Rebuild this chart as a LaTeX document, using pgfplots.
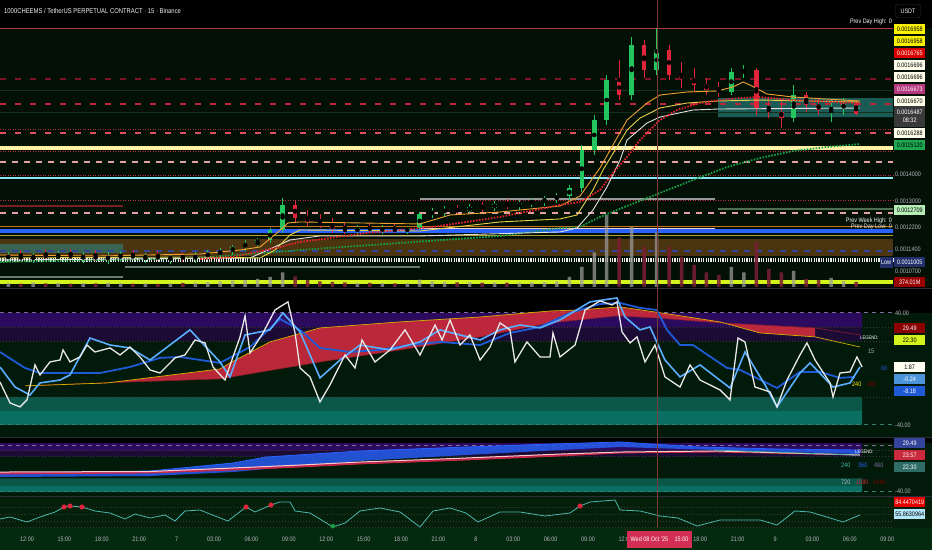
\documentclass[border=0pt]{standalone}
\usepackage{pgfplots}
\pgfplotsset{compat=1.18}
\usepackage{pgfplotstable}
\usepackage{fontspec}
\setmainfont{Liberation Sans}[FakeStretch=0.84]

\definecolor{bgmain}{HTML}{031006}
\definecolor{bgosc}{HTML}{021A09}
\definecolor{bgpthree}{HTML}{04200B}
\definecolor{bgaxis}{HTML}{03290E}
\definecolor{sepc}{HTML}{2A2E39}
\definecolor{tvtext}{HTML}{B2B5BE}
\definecolor{lvlred}{HTML}{E05060}
\definecolor{lvlmid}{HTML}{B8283A}
\definecolor{lvldark}{HTML}{7C1424}
\definecolor{lvlsolid}{HTML}{B03A44}
\definecolor{lvldotc}{HTML}{B83040}
\definecolor{lvlpink}{HTML}{E3A2A2}
\definecolor{faint}{HTML}{12301C}
\definecolor{cream}{HTML}{FFF1A6}
\definecolor{lcyan}{HTML}{8FE4F2}
\definecolor{tvblue}{HTML}{2962FF}
\definecolor{olive}{HTML}{B2A03A}
\definecolor{brownband}{HTML}{4B3410}
\definecolor{brownl}{HTML}{8A5A20}
\definecolor{navy}{HTML}{33449A}
\definecolor{ygreen}{HTML}{D4F21C}
\definecolor{darkred}{HTML}{7A1F25}
\definecolor{grgreen}{HTML}{4F6F50}
\definecolor{grayl}{HTML}{6A7A6A}
\definecolor{orangel}{HTML}{C8741E}
\definecolor{pinkw}{HTML}{F0D0D0}
\definecolor{tealbox}{HTML}{2A8F8A}
\definecolor{upg}{HTML}{22C55E}
\definecolor{dnr}{HTML}{E0243C}
\definecolor{maor}{HTML}{F0A033}
\definecolor{may}{HTML}{E6D24A}
\definecolor{maw}{HTML}{E0E0E0}
\definecolor{mar}{HTML}{E5232F}
\definecolor{mag}{HTML}{17A046}
\definecolor{volg}{HTML}{A0A0A0}
\definecolor{volr}{HTML}{7B1F33}
\definecolor{purpA}{HTML}{2C0B5E}
\definecolor{purpB}{HTML}{1B0B35}
\definecolor{tealA}{HTML}{0B5848}
\definecolor{tealB}{HTML}{0A6E62}
\definecolor{cloud}{HTML}{C92A3C}
\definecolor{yline}{HTML}{D4B000}
\definecolor{oblue}{HTML}{1F5AD6}
\definecolor{olblue}{HTML}{5AAEFF}
\definecolor{owhite}{HTML}{E8E8E8}
\definecolor{tvred}{HTML}{D32F55}
\definecolor{lineteal}{HTML}{4DB6AC}
\definecolor{crossc}{HTML}{7A3A3A}

\pgfplotsset{
  tvpanel/.style={scale only axis, width=932pt, xmin=9.834, xmax=84.59,
    anchor=north west, axis line style={draw=none}, ticks=none, clip=true},
  % price panel: linear in ln(price), same as a log price scale
  pricepanel/.style={tvpanel, at={(0pt,550pt)}, height=287pt, ymin=-6.880889, ymax=-6.094602},
  lvldash/.style={draw=#1, line width=1.8pt, dash pattern=on 6pt off 9pt},
  pinkdash/.style={draw=lvlpink, line width=1.8pt, dash pattern=on 6pt off 6pt},
  lvldot/.style={draw=lvldotc, line width=0.9pt, dash pattern=on 1pt off 1.5pt},
  navydash/.style={draw=navy, line width=1.6pt, dash pattern=on 6pt off 6pt},
  whitedot/.style={draw=white!85!gray, line width=1.6pt, dash pattern=on 1.2pt off 1.2pt},
  oscdot/.style={draw=gray!45!black, line width=0.6pt, dash pattern=on 1pt off 2pt},
}
% horizontal price level: style, x from, x to, price
\newcommand{\hlev}[4]{\addplot[#1] table[row sep=\\, x=x, y expr={ln(\thisrow{p})}] {x p\\ #2 #4\\ #3 #4\\};}
% price box: style, x from, x to, price low, price high
\newcommand{\lbox}[5]{\addplot[#1, draw=none] table[row sep=\\, x=x, y expr={ln(\thisrow{p})}] {x p\\ #2 #4\\ #3 #4\\ #3 #5\\ #2 #5\\ #2 #4\\};}
% oscillator level and band
\newcommand{\olev}[4]{\addplot[#1] coordinates {(#2,#4) (#3,#4)};}
\newcommand{\obox}[5]{\addplot[fill=#1, draw=none] coordinates {(#2,#4) (#3,#4) (#3,#5) (#2,#5) (#2,#4)};}
\newcommand{\fs}[1]{\fontsize{#1}{#1}\selectfont}
\newcommand{\plab}[4]{\node[fill=#2,text=#3,anchor=west,minimum width=31pt,minimum height=10.5pt,inner sep=0pt,font=\fs{6.5}] at (894,550-#1) {#4};}
\newcommand{\ptick}[2]{\node[text=tvtext,anchor=west,inner sep=0pt,font=\fs{6.5}] at (895,550-#1) {#2};}

% hourly candles: t o hi lo c
\pgfplotstableread{
t o hi lo c
10.5 0.0011123 0.0011306 0.0011002 0.0011184
12.5 0.0011092 0.0011276 0.0010972 0.0011214
14.5 0.0011153 0.0011337 0.0011002 0.0011245
16.5 0.0011123 0.0011306 0.0010972 0.0011184
18.5 0.0011092 0.0011306 0.0010941 0.0011153
19.5 0.0011153 0.0011337 0.0011002 0.0011214
21.5 0.0011123 0.0011276 0.0010972 0.0011184
23.5 0.0011092 0.0011245 0.0010941 0.0011153
25.5 0.0011123 0.0011306 0.0010972 0.0011184
26.5 0.0011184 0.0011368 0.0011062 0.0011245
27.5 0.0011245 0.0011431 0.0011123 0.0011337
28.5 0.0011337 0.0011525 0.0011214 0.0011462
29.5 0.0011462 0.0011685 0.0011337 0.0011589
30.5 0.0011589 0.0011749 0.0011431 0.0011685
31.5 0.0011685 0.0012075 0.0011589 0.0012009
32.5 0.0012009 0.0013109 0.0011911 0.0012860
38.5 0.0011976 0.0012175 0.0011846 0.0012075
40.5 0.0012009 0.0012175 0.0011879 0.0012042
42.5 0.0011976 0.0012142 0.0011879 0.0012075
43.5 0.0012075 0.0012616 0.0012009 0.0012548
44.5 0.0012548 0.0012755 0.0012411 0.0012616
45.5 0.0012616 0.0012825 0.0012479 0.0012685
47.5 0.0012651 0.0012895 0.0012548 0.0012790
49.5 0.0012755 0.0013002 0.0012651 0.0012895
51.5 0.0012825 0.0013037 0.0012685 0.0012931
52.5 0.0012931 0.0013109 0.0012790 0.0013002
53.5 0.0013002 0.0013181 0.0012825 0.0013073
54.5 0.0013073 0.0013290 0.0012931 0.0013181
55.5 0.0013181 0.0013584 0.0013037 0.0013473
56.5 0.0013473 0.0015157 0.0013326 0.0014951
57.5 0.0014951 0.0016456 0.0014748 0.0016232
58.5 0.0016232 0.0018363 0.0016011 0.0018112
60.5 0.0017383 0.0020378 0.0017146 0.0019935
62.5 0.0018616 0.0020886 0.0018363 0.0019663
68.5 0.0017527 0.0018718 0.0017383 0.0018515
69.5 0.0018515 0.0018872 0.0018212 0.0018616
73.5 0.0016321 0.0017866 0.0016144 0.0017383
76.5 0.0016683 0.0017146 0.0016144 0.0016775
77.5 0.0016775 0.0017241 0.0016456 0.0016960
}\upc
\pgfplotstableread{
t o hi lo c
11.5 0.0011184 0.0011368 0.0011032 0.0011092
13.5 0.0011214 0.0011399 0.0011062 0.0011153
15.5 0.0011245 0.0011399 0.0011092 0.0011123
17.5 0.0011184 0.0011368 0.0011032 0.0011092
20.5 0.0011214 0.0011368 0.0011062 0.0011123
22.5 0.0011184 0.0011337 0.0011032 0.0011092
24.5 0.0011153 0.0011306 0.0011002 0.0011123
33.5 0.0012860 0.0013037 0.0012276 0.0012411
34.5 0.0012411 0.0012685 0.0012142 0.0012276
35.5 0.0012276 0.0012548 0.0012075 0.0012175
36.5 0.0012175 0.0012411 0.0011911 0.0012042
37.5 0.0012042 0.0012276 0.0011879 0.0011976
39.5 0.0012075 0.0012242 0.0011911 0.0012009
41.5 0.0012042 0.0012209 0.0011911 0.0011976
46.5 0.0012685 0.0012860 0.0012513 0.0012651
48.5 0.0012790 0.0012966 0.0012616 0.0012755
50.5 0.0012895 0.0013073 0.0012720 0.0012825
59.5 0.0018112 0.0019132 0.0017146 0.0017383
61.5 0.0019935 0.0020211 0.0018212 0.0018616
63.5 0.0019663 0.0019935 0.0018112 0.0018363
64.5 0.0018363 0.0019028 0.0017720 0.0018212
65.5 0.0018212 0.0018718 0.0017527 0.0017866
66.5 0.0017866 0.0018212 0.0017383 0.0017623
67.5 0.0017623 0.0018014 0.0017288 0.0017527
70.5 0.0018616 0.0018718 0.0016456 0.0016775
71.5 0.0016775 0.0017241 0.0016321 0.0016592
72.5 0.0016592 0.0017146 0.0015880 0.0016321
74.5 0.0017383 0.0017527 0.0016592 0.0016913
75.5 0.0016913 0.0017241 0.0016456 0.0016683
78.5 0.0016960 0.0017146 0.0016456 0.0016487
}\dnc
% hourly volume, millions
\pgfplotstableread{
t v
10.5 300
12.5 340
14.5 310
16.5 290
18.5 330
19.5 300
21.5 280
23.5 270
25.5 320
26.5 360
27.5 420
28.5 480
29.5 520
30.5 600
31.5 750
32.5 1100
38.5 310
40.5 290
42.5 300
43.5 560
44.5 420
45.5 380
47.5 360
49.5 340
51.5 330
52.5 350
53.5 370
54.5 420
55.5 750
56.5 1500
57.5 2600
58.5 5400
60.5 4500
62.5 4100
68.5 1500
69.5 1100
73.5 1200
76.5 680
77.5 450
}\volup
\pgfplotstableread{
t v
11.5 260
13.5 280
15.5 250
17.5 270
20.5 260
22.5 240
24.5 300
33.5 800
34.5 520
35.5 430
36.5 380
37.5 340
39.5 300
41.5 280
46.5 350
48.5 330
50.5 320
59.5 3700
61.5 3000
63.5 3000
64.5 2250
65.5 1650
66.5 1100
67.5 900
70.5 3400
71.5 1350
72.5 1100
74.5 600
75.5 520
78.5 380
}\voldn
% moving averages: t p
\pgfplotstableread{
t p
9.83 0.0011002
25.88 0.0011123
33.90 0.0011368
41.92 0.0011589
49.94 0.0011814
54.75 0.0012075
56.36 0.0012109
57.96 0.0012445
60.13 0.0012825
62.77 0.0013290
65.42 0.0013772
68.15 0.0014271
70.80 0.0014627
73.44 0.0014910
76.17 0.0015075
78.81 0.0015199
}\maG
\pgfplotstableread{
t p
9.83 0.0011062
29.89 0.0011123
33.10 0.0011685
35.50 0.0011814
43.52 0.0011814
54.75 0.0011944
56.12 0.0012075
57.40 0.0012685
58.52 0.0013510
59.57 0.0014547
60.13 0.0015366
61.73 0.0016099
62.77 0.0016366
65.42 0.0016683
67.43 0.0016729
78.81 0.0016775
}\maW
\pgfplotstableread{
t p
9.83 0.0011123
25.88 0.0011153
30.69 0.0011123
31.89 0.0011368
33.10 0.0011846
33.90 0.0012009
43.52 0.0011976
49.94 0.0012276
54.75 0.0012377
56.12 0.0012513
57.40 0.0013399
58.20 0.0014154
59.32 0.0015075
60.13 0.0015793
61.17 0.0016321
62.77 0.0016775
64.94 0.0017006
67.35 0.0017099
70.80 0.0017146
78.81 0.0017052
}\maY
\pgfplotstableread{
t p
9.83 0.0011214
17.86 0.0011184
25.88 0.0011245
29.09 0.0011368
30.69 0.0011462
32.05 0.0011911
32.93 0.0012242
33.90 0.0012276
43.52 0.0012209
45.93 0.0012513
49.94 0.0012616
54.75 0.0012825
56.36 0.0013181
57.96 0.0014232
59.00 0.0015157
60.13 0.0016232
61.73 0.0017006
62.77 0.0017383
64.94 0.0017527
67.35 0.0017575
68.63 0.0017769
69.43 0.0018014
69.99 0.0017866
71.36 0.0017431
73.44 0.0017288
78.81 0.0017099
}\maO
\pgfplotstableread{
t p
25.88 0.0011092
28.52 0.0011153
32.29 0.0011462
33.90 0.0011621
39.27 0.0011911
44.57 0.0012109
49.94 0.0012445
54.75 0.0012860
56.36 0.0012966
57.96 0.0013399
59.00 0.0014039
60.13 0.0014668
61.17 0.0015366
62.77 0.0016232
64.14 0.0016683
65.98 0.0017006
67.59 0.0017146
69.19 0.0017241
70.80 0.0017288
73.44 0.0017146
78.81 0.0017006
}\maR

\begin{document}
\begin{tikzpicture}[x=1pt,y=1pt]
\fill[black] (0,0) rectangle (932,550);
\fill[bgmain] (0,263) rectangle (932,522);
\fill[bgosc] (0,113) rectangle (932,237);
\fill[bgosc] (0,54) rectangle (932,107);
\fill[bgpthree] (0,22) rectangle (932,53);
\fill[bgaxis] (0,0) rectangle (932,22);

% ---------- main panel: levels ----------
\begin{axis}[pricepanel]
\lbox{fill=brownband}{9.834}{81.46}{0.0011184}{0.0011717}
\lbox{fill=tealbox, fill opacity=0.55}{9.834}{19.7}{0.0011276}{0.0011557}
\lbox{fill=tealbox, fill opacity=0.6}{67.43}{81.46}{0.0016366}{0.0017241}
\hlev{draw=lvlsolid, line width=0.9pt}{9.834}{81.46}{0.0020886}
\hlev{lvldash=lvldark}{9.834}{81.46}{0.0018162}
\hlev{draw=faint, line width=0.8pt}{9.834}{81.46}{0.0017623}
\hlev{lvldash=lvlmid}{9.834}{81.46}{0.0016960}
\hlev{draw=faint, line width=0.8pt}{9.834}{81.46}{0.0016592}
\hlev{lvldot}{9.834}{81.46}{0.0015837}
\hlev{lvldash=lvlred}{9.834}{81.46}{0.0015664}
\hlev{draw=brownl, line width=1pt}{54.75}{67.19}{0.0015116}
\hlev{draw=cream, line width=4pt}{9.834}{81.46}{0.0015033}
\hlev{lvldot}{9.834}{81.46}{0.0014910}
\hlev{pinkdash}{9.834}{81.46}{0.0014468}
\hlev{lvldot}{9.834}{81.46}{0.0013962}
\hlev{draw=lcyan, line width=2.8pt}{9.834}{81.46}{0.0013848}
\hlev{draw=gray!80, line width=1.2pt}{43.52}{67.19}{0.0013073}
\hlev{lvldot}{9.834}{81.46}{0.0013037}
\hlev{draw=darkred, line width=1.2pt}{9.834}{19.7}{0.0012825}
\hlev{draw=grgreen, line width=1.2pt}{67.43}{81.46}{0.0012720}
\hlev{pinkdash}{9.834}{81.46}{0.0012582}
\hlev{draw=orangel, line width=1pt}{9.834}{81.46}{0.0012109}
\hlev{draw=pinkw, line width=1pt}{43.52}{67.19}{0.0012042}
\hlev{draw=tvblue, line width=4pt}{9.834}{81.46}{0.0011976}
\hlev{draw=olive, line width=1pt}{9.834}{81.46}{0.0011814}
\hlev{navydash}{9.834}{81.46}{0.0011337}
\hlev{whitedot}{9.834}{81.46}{0.0011092}
\hlev{whitedot}{9.834}{81.46}{0.0011032}
\hlev{draw=grayl, line width=1.2pt}{19.86}{43.52}{0.0010851}
\hlev{draw=grayl, line width=1.2pt}{9.834}{19.7}{0.0010557}
\hlev{draw=ygreen, line width=4pt}{9.834}{81.46}{0.0010415}
\end{axis}

% ---------- volume ----------
\begin{axis}[tvpanel, at={(0pt,550pt)}, height=287pt, ymin=0, ymax=21525]
\addplot[ybar, bar width=3.5pt, bar shift=0pt, fill=volg, fill opacity=0.7, draw=none] table[x=t, y=v] {\volup};
\addplot[ybar, bar width=3.5pt, bar shift=0pt, fill=volr, fill opacity=0.85, draw=none] table[x=t, y=v] {\voldn};
\end{axis}

% ---------- main panel: candles and averages ----------
\begin{axis}[pricepanel]
\addplot[only marks, mark=none, error bars/.cd, y dir=both, y explicit, error mark=none,
  error bar style={draw=upg, line width=0.9pt, solid}]
  table[x=t, y expr={(ln(\thisrow{hi})+ln(\thisrow{lo}))/2}, y error expr={(ln(\thisrow{hi})-ln(\thisrow{lo}))/2}] {\upc};
\addplot[only marks, mark=none, error bars/.cd, y dir=both, y explicit, error mark=none,
  error bar style={draw=upg, line width=4.5pt, solid}]
  table[x=t, y expr={(ln(\thisrow{o})+ln(\thisrow{c}))/2}, y error expr={(ln(\thisrow{c})-ln(\thisrow{o}))/2}] {\upc};
\addplot[only marks, mark=none, error bars/.cd, y dir=both, y explicit, error mark=none,
  error bar style={draw=dnr, line width=0.9pt, solid}]
  table[x=t, y expr={(ln(\thisrow{hi})+ln(\thisrow{lo}))/2}, y error expr={(ln(\thisrow{hi})-ln(\thisrow{lo}))/2}] {\dnc};
\addplot[only marks, mark=none, error bars/.cd, y dir=both, y explicit, error mark=none,
  error bar style={draw=dnr, line width=4.5pt, solid}]
  table[x=t, y expr={(ln(\thisrow{o})+ln(\thisrow{c}))/2}, y error expr={(ln(\thisrow{o})-ln(\thisrow{c}))/2}] {\dnc};
\addplot[draw=mag, line width=1.8pt, dash pattern=on 1.6pt off 1.4pt] table[x=t, y expr={ln(\thisrow{p})}] {\maG};
\addplot[draw=maw, line width=0.9pt] table[x=t, y expr={ln(\thisrow{p})}] {\maW};
\addplot[draw=may, line width=0.9pt] table[x=t, y expr={ln(\thisrow{p})}] {\maY};
\addplot[draw=maor, line width=0.9pt] table[x=t, y expr={ln(\thisrow{p})}] {\maO};
\addplot[draw=mar, line width=1.8pt, dash pattern=on 1.6pt off 1.4pt] table[x=t, y expr={ln(\thisrow{p})}] {\maR};
\end{axis}

% ---------- oscillator panel 1 ----------
\begin{axis}[tvpanel, at={(0pt,261pt)}, height=148pt, ymin=-48.6, ymax=57.1]
\obox{purpA}{9.834}{78.98}{30}{40}
\obox{purpB}{9.834}{78.98}{20}{30}
\obox{tealA}{9.834}{78.98}{-30}{-20}
\obox{tealB}{9.834}{78.98}{-40}{-30}
\olev{draw=purpA!60!white, line width=1pt, dash pattern=on 4pt off 4pt}{9.834}{81.46}{40}
\olev{oscdot}{9.834}{81.46}{30}
\olev{oscdot}{9.834}{81.46}{20}
\olev{oscdot}{9.834}{81.46}{-20}
\olev{draw=lineteal!70!black, line width=1pt, dash pattern=on 4pt off 4pt}{9.834}{81.46}{-40}
% cloud: slow yellow line forward, lower edge back
\addplot[fill=cloud, fill opacity=0.92, draw=none] coordinates {
(11.84,-12.1) (18.42,-10) (27.48,0) (28.28,4.3) (31.49,19.3) (35.50,29.3) (41.92,33.6) (48.34,37.1)
(53.95,41.4) (56.12,42.1) (59.57,44.3) (62.37,40.7) (67.59,33.6) (70.80,25.7) (75.21,22.9)
(75.21,29.3) (67.59,32.9) (62.53,36.4) (59.32,37.9) (53.95,32.9) (48.34,22.9) (41.92,13.6)
(35.50,5) (27.48,-7.1) (17.86,-10) (11.84,-12.1)};
\addplot[draw=cloud!70!black, line width=0.6pt] coordinates {
(11.84,-12.1) (17.86,-10) (27.48,-7.1) (35.50,5) (41.92,13.6) (48.34,22.9) (53.95,32.9)
(59.32,37.9) (62.53,36.4) (67.59,32.9) (75.21,29.3) (78.81,24.3)};
\addplot[draw=yline, line width=0.7pt] coordinates {
(11.84,-12.1) (18.42,-10) (27.48,0) (28.28,4.3) (31.49,19.3) (35.50,29.3) (41.92,33.6) (48.34,37.1)
(53.95,41.4) (56.12,42.1) (59.57,44.3) (62.37,40.7) (67.59,33.6) (70.80,25.7) (75.21,22.9) (78.81,15.7)};
% slow blue
\addplot[draw=oblue, line width=1.8pt] coordinates {
(9.83,12.1) (11.84,0.7) (13.04,-2.9) (17.86,-2.9) (20.26,1.4) (22.67,7.9) (24.27,8.6) (27.48,4.3)
(29.89,15.7) (32.29,35.7) (33.90,27.9) (35.50,15) (37.91,12.1) (40.31,13.6) (42.72,17.1) (45.13,19.3)
(48.34,17.1) (50.74,25.7) (53.15,30) (55.55,40) (57.96,46.4) (59.57,47.1) (61.17,43.6) (62.53,42.1)
(63.33,27.9) (64.38,17.1) (65.42,17.1) (68.15,0.7) (69.19,-0.7) (72.16,-13.6) (74.00,-2.1)
(75.61,-2.1) (77.21,-6.4) (78.41,-5.7)};
% light blue
\addplot[draw=olblue, line width=1.6pt] coordinates {
(9.83,1.4) (11.04,-12.9) (12.24,-18.6) (13.04,-10) (14.65,-7.9) (15.45,-4.3) (17.05,22.1) (18.66,17.1)
(20.26,15) (21.87,6.4) (25.07,27.9) (27.48,5) (28.28,-5.7) (29.49,24.3) (31.49,27.9) (32.53,40)
(33.90,26.4) (35.50,-6.4) (37.11,6.4) (38.71,17.1) (41.12,13.6) (43.52,19.3) (45.13,27.9) (46.73,24.3)
(48.34,20.7) (49.94,27.9) (51.54,31.4) (53.15,29.3) (54.75,35) (57.16,47.9) (58.76,50) (59.32,50.7)
(59.97,37.1) (61.17,27.9) (61.97,30) (63.17,6.4) (64.38,-5.7) (65.98,2.9) (68.39,-13.6) (69.59,12.1)
(71.20,-11.4) (72.16,-27.1) (74.00,-2.9) (74.81,4.3) (76.65,-12.9) (78.01,-10) (78.81,1.4)};
% fast white
\addplot[draw=owhite, line width=1.3pt] coordinates {
(9.83,-9.3) (10.64,-24.3) (11.44,-27.1) (12.00,-22.1) (12.64,2.9) (13.04,-4.3) (13.84,5) (14.65,6.4)
(14.89,13.6) (15.45,5) (16.25,8.6) (16.81,17.1) (17.45,12.1) (18.66,15) (19.46,10) (20.26,15.7)
(21.06,8.6) (21.87,-0.7) (22.67,-2.9) (23.87,7.9) (24.67,10) (25.48,20.7) (26.28,18.6) (26.92,1.4)
(27.88,-7.9) (28.52,8.6) (29.09,22.9) (29.49,37.9) (29.89,11.4) (30.93,25.7) (31.89,42.1) (32.93,47.9)
(33.50,25.7) (33.90,0.7) (34.70,-5.7) (35.50,-23.6) (36.30,-11.4) (37.51,10) (38.31,0.7) (38.87,20.7)
(39.91,5) (41.12,13.6) (42.32,27.9) (43.52,10) (44.73,31.4) (45.29,20.7) (45.93,35) (46.73,17.1)
(47.53,24.3) (48.34,6.4) (49.14,15.7) (49.94,32.9) (50.74,27.9) (51.14,5) (52.10,19.3) (53.15,8.6)
(53.95,8.6) (54.19,25.7) (54.75,8.6) (55.96,17.1) (56.76,42.1) (57.96,48.6) (58.92,45.7) (59.32,47.9)
(59.73,26.4) (60.37,18.6) (60.93,22.9) (61.57,5) (62.37,17.1) (63.17,-5.7) (64.38,-12.9) (65.18,2.9)
(65.98,-7.9) (67.59,-15) (68.39,-22.1) (69.03,22.1) (69.59,19.3) (70.39,-12.9) (71.60,-16.4)
(72.16,-27.1) (72.96,-7.9) (74.00,10) (74.56,18.6) (75.21,6.4) (76.41,-10) (76.65,-20) (77.21,-2.9)
(78.01,-2.1) (78.57,8.6) (78.98,1.4)};
\end{axis}

% ---------- oscillator panel 2 ----------
\begin{axis}[tvpanel, at={(0pt,112pt)}, height=58pt, ymin=-48.7, ymax=52.2]
\obox{purpA}{9.834}{78.98}{30}{43.5}
\obox{purpB}{9.834}{78.98}{20}{30}
\obox{tealA}{9.834}{78.98}{-30}{-18}
\obox{tealB}{9.834}{78.98}{-42}{-30}
\olev{draw=purpA!60!white, line width=1pt, dash pattern=on 4pt off 4pt}{9.834}{81.46}{40}
\olev{oscdot}{9.834}{81.46}{30}
\olev{oscdot}{9.834}{81.46}{20}
\olev{draw=lineteal!70!black, line width=1pt, dash pattern=on 4pt off 4pt}{9.834}{81.46}{-40}
\addplot[fill=tvblue!90!black, fill opacity=0.9, draw=none] coordinates {
(9.83,-8.7) (21.87,-5.2) (28.52,8.7) (31.17,19.1) (38.71,29.6) (47.21,36.5) (53.95,41.7)
(59.57,45.2) (65.98,36.5) (72.40,33.0) (78.81,31.3)
(78.81,24.3) (67.19,31.3) (59.57,36.5) (54.75,31.3) (47.21,22.6) (38.71,12.2) (33.90,3.5)
(28.52,-7.0) (21.87,-13.9) (9.83,-15.7)};
\addplot[draw=tvblue, line width=0.8pt] coordinates {
(9.83,-8.7) (21.87,-5.2) (28.52,8.7) (31.17,19.1) (38.71,29.6) (47.21,36.5) (53.95,41.7)
(59.57,45.2) (65.98,36.5) (72.40,33.0) (78.81,31.3)};
\addplot[fill=cloud!85!magenta, fill opacity=0.9, draw=none] coordinates {
(9.83,-7.0) (21.87,-6.1) (28.52,0) (33.90,5.2) (38.71,10.4) (47.21,17.4) (54.75,24.3)
(59.57,27.8) (67.19,29.6)
(67.19,27.8) (59.57,26.1) (54.75,20.9) (47.21,13.9) (38.71,7.0) (33.90,1.7) (28.52,-3.5)
(21.87,-8.7) (9.83,-10.4)};
\addplot[draw=cloud, line width=0.8pt] coordinates {
(9.83,-10.4) (21.87,-8.7) (28.52,-3.5) (33.90,1.7) (38.71,7.0) (47.21,13.9) (54.75,20.9)
(59.57,26.1) (67.19,27.8) (78.81,22.6)};
\addplot[draw=pink!80!white, line width=1pt] coordinates {
(9.83,-7.0) (21.87,-6.1) (28.52,0) (33.90,5.2) (38.71,10.4) (47.21,17.4) (54.75,24.3)
(59.57,27.8) (67.19,29.6) (78.81,22.6)};
\addplot[draw=lineteal, line width=0.7pt] coordinates {(67.19,31.3) (78.81,22.3)};
\end{axis}

% ---------- panel 3 ----------
\begin{axis}[tvpanel, at={(0pt,53pt)}, height=31pt, ymin=20.9, ymax=98.4]
\olev{oscdot}{9.834}{81.46}{73.4}
\olev{oscdot}{9.834}{81.46}{55.9}
\olev{oscdot}{9.834}{81.46}{38.4}
\olev{oscdot}{9.834}{81.46}{23.4}
\addplot[draw=lineteal, line width=0.8pt] coordinates {
(9.83,43.4) (10.64,48.4) (12.00,35.9) (13.04,48.4) (14.25,60.9) (14.97,73.4) (15.45,75.9) (16.41,73.4)
(17.45,63.4) (18.66,58.4) (19.86,43.4) (20.66,55.9) (21.87,45.9) (23.07,53.4) (23.87,38.4) (24.67,63.4)
(25.88,65.9) (27.08,50.9) (28.12,38.4) (29.57,73.4) (30.29,60.9) (31.57,78.4) (32.29,85.9) (33.10,85.9)
(33.50,63.4) (34.70,58.4) (36.54,23.4) (37.51,33.4) (38.71,63.4) (40.31,70.9) (41.92,60.9) (43.52,23.4)
(44.57,63.4) (45.93,70.9) (47.21,58.4) (48.17,35.9) (49.94,60.9) (51.54,60.9) (53.55,50.9) (55.55,58.4)
(56.36,75.9) (57.16,85.9) (59.16,90.9) (59.57,65.9) (61.17,63.4) (62.77,50.9) (64.21,45.9) (65.74,25.9)
(67.59,40.9) (69.19,40.9) (70.80,40.9) (72.16,28.4) (73.60,63.4) (74.81,60.9) (76.41,45.9) (77.45,35.9)
(78.81,53.4)};
\addplot[only marks, mark=*, mark size=2.3pt, color=dnr] coordinates {
(14.97,73.4) (15.45,75.9) (16.41,73.4) (29.57,73.4) (31.57,78.4) (56.36,75.9)};
\addplot[only marks, mark=*, mark size=2pt, color=mag] coordinates {(36.54,25.4)};
\end{axis}

% ---------- separators, cursor ----------
\draw[sepc, line width=1pt] (0,262) -- (932,262);
\draw[sepc, line width=1pt] (0,112.5) -- (932,112.5);
\draw[sepc, line width=1pt] (0,53.5) -- (932,53.5);
\draw[crossc, line width=0.6pt] (657,22) -- (657,550);

% ---------- texts ----------
\node[anchor=west, text=white!80!tvtext, font=\fs{7}, inner sep=0pt] at (4,539) {1000CHEEMS / TetherUS PERPETUAL CONTRACT · 15 · Binance};
\node[draw=sepc, fill=black, text=white!85!tvtext, rounded corners=1.5pt, minimum width=25pt, minimum height=13pt, inner sep=0pt, font=\fs{6.5}] at (908,539) {USDT};
\node[anchor=east, text=white!90!tvtext, font=\fs{6.5}, inner sep=0pt] at (892,528) {Prev Day High: 0};
\node[anchor=east, text=white!90!tvtext, font=\fs{6.5}, inner sep=0pt] at (892,329) {Prev Week High: 0};
\node[anchor=east, text=white!70!tvtext, font=\fs{6.5}, inner sep=0pt] at (892,323) {Prev Day Low: 0};

\plab{29}{yellow!90!lime}{black}{0.0016958}
\plab{41}{yellow!90!lime}{black}{0.0016958}
\plab{53}{red!85!black}{white}{0.0016765}
\plab{65}{yellow!8!white}{black}{0.0016696}
\plab{77}{yellow!8!white}{black}{0.0016696}
\plab{89}{magenta!70!black}{white}{0.0016673}
\plab{101}{yellow!8!white}{black}{0.0016670}
\node[fill=gray!45!black, text=white, anchor=west, minimum width=31pt, minimum height=21pt, inner sep=0pt, align=center, font=\fs{6.5}] at (894,550-116.5) {0.0016487\\[1pt]08:32};
\plab{133}{yellow!8!white}{black}{0.0016288}
\plab{145}{upg!85!black}{black}{0.0015120}
\ptick{174}{0.0014000}
\ptick{201}{0.0013000}
\plab{210}{green!25!white!85!gray}{black}{0.0012709}
\ptick{227}{0.0012200}
\ptick{249}{0.0011400}
\node[fill=navy!70!black, text=white, minimum width=13pt, minimum height=11pt, inner sep=0pt, font=\fs{6.5}] at (886,288) {Low};
\plab{262}{navy!70!black}{white}{0.0011005}
\ptick{271}{0.0010700}
\plab{282}{red!60!black}{white}{374.01M}

% panel 1 texts
\ptick{313}{40.00}
\plab{328}{red!55!black}{white}{29.49}
\plab{340}{ygreen}{black}{22.30}
\node[anchor=west, text=white, font=\fs{5}, inner sep=0pt] at (860,550-338) {LEGEND:};
\node[anchor=west, text=tvtext, font=\fs{6.5}, inner sep=0pt] at (868,550-351) {15};
\plab{367}{yellow!6!white}{black}{1.87}
\node[anchor=west, text=oblue, font=\fs{6.5}, inner sep=0pt] at (881,550-368) {60};
\plab{379}{olblue!85!black}{white}{-0.24}
\node[anchor=west, text=yellow!90!lime, font=\fs{6.5}, inner sep=0pt] at (852,550-384) {240};
\node[anchor=west, text=red!45!black, font=\fs{6.5}, inner sep=0pt] at (867,550-384) {480};
\plab{391}{oblue}{white}{-8.18}
\ptick{425}{-40.00}

% panel 2 texts
\plab{443}{navy}{white}{29.49}
\plab{455}{cloud}{white}{23.57}
\plab{467}{lineteal!60!black}{white}{22.30}
\node[anchor=west, text=white, font=\fs{5}, inner sep=0pt] at (855,550-452) {LEGEND:};
\node[anchor=west, text=lineteal, font=\fs{6.5}, inner sep=0pt] at (841,550-465) {240};
\node[anchor=west, text=tvblue, font=\fs{6.5}, inner sep=0pt] at (858,550-465) {360};
\node[anchor=west, text=purpA!60!white, font=\fs{6.5}, inner sep=0pt] at (874,550-465) {480};
\node[anchor=west, text=tvtext, font=\fs{6.5}, inner sep=0pt] at (841,550-482) {720};
\node[anchor=west, text=cloud, font=\fs{6.5}, inner sep=0pt] at (856,550-482) {1080};
\node[anchor=west, text=red!50!black, font=\fs{6.5}, inner sep=0pt] at (873,550-482) {1440};
\ptick{491}{-40.00}

% panel 3 texts
\plab{502}{red!90!black}{white}{84.4470419}
\plab{514}{cyan!30!white}{black}{55.8630964}

% time axis
\foreach \h/\t in {12/12:00,15/15:00,18/18:00,21/21:00,24/7,27/03:00,30/06:00,33/09:00,36/12:00,
  39/15:00,42/18:00,45/21:00,48/8,51/03:00,54/06:00,57/09:00,60/12:00,66/18:00,69/21:00,72/9,
  75/03:00,78/06:00,81/09:00}
  \node[text=tvtext, font=\fs{6.5}, inner sep=0pt] at ({27+(\h-12)*12.467},11) {\t};
\node[fill=tvred, text=white, minimum width=65pt, minimum height=17pt, inner sep=0pt, font=\fs{6.5}] at (659.5,10.5) {Wed 08 Oct '25\quad 15:00};
\pgfresetboundingbox
\path[use as bounding box] (0,0) rectangle (932,550);
\end{tikzpicture}
\end{document}
